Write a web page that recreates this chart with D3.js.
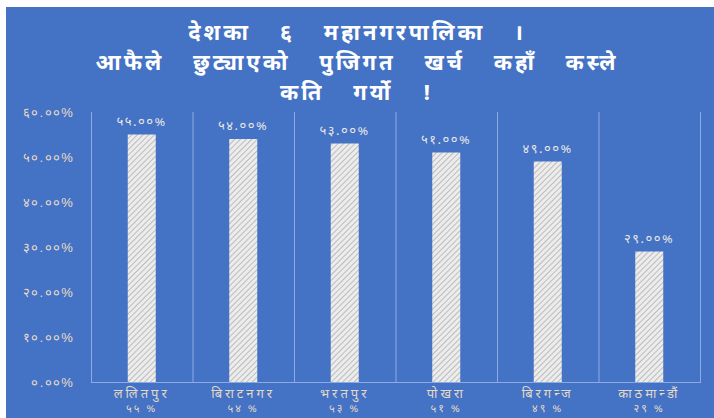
<!DOCTYPE html>
<html><head><meta charset="utf-8">
<script src="https://cdn.jsdelivr.net/npm/d3@7"></script>
<style>
html,body{margin:0;padding:0;background:#fff;}
svg{display:block;font-family:"Noto Sans Devanagari","Noto Sans",sans-serif;}
</style></head><body>
<svg id="c" width="714" height="418"></svg>
<script>
const titleLines = ["देशका ६ महानगरपालिका ।", "आफैले छुट्याएको पुजिगत खर्च कहाँ कस्ले", "कति गर्यो !"];
const categories = ["ललितपुर", "बिराटनगर", "भरतपुर", "पोखरा", "बिरगन्ज", "काठमान्डौं"];
const categorySub = ["५५ %", "५४ %", "५३ %", "५१ %", "४९ %", "२९ %"];
const values = [55, 54, 53, 51, 49, 29];
const valueLabels = ["५५.००%", "५४.००%", "५३.००%", "५१.००%", "४९.००%", "२९.००%"];
const yTicks = [0, 10, 20, 30, 40, 50, 60];
const yTickLabels = ["०.००%", "१०.००%", "२०.००%", "३०.००%", "४०.००%", "५०.००%", "६०.००%"];

const svg = d3.select("#c");
const W = 714, H = 418;
svg.append("rect").attr("x", 6).attr("y", 7).attr("width", W - 6).attr("height", H - 7).attr("fill", "#4472C4");

const defs = svg.append("defs");
const pat = defs.append("pattern").attr("id", "hatch").attr("patternUnits", "userSpaceOnUse")
  .attr("width", 4).attr("height", 4).attr("patternTransform", "rotate(45)");
pat.append("rect").attr("width", 4).attr("height", 4).attr("fill", "#ececec");
pat.append("line").attr("x1", 0).attr("y1", 0).attr("x2", 0).attr("y2", 4).attr("stroke", "#949494").attr("stroke-width", 1.1);

const pLeft = 91, pRight = 700, pTop = 112, pBottom = 382;
const x = d3.scaleBand().domain(categories).range([pLeft, pRight]).paddingInner(0).paddingOuter(0);
const y = d3.scaleLinear().domain([0, 60]).range([pBottom, pTop]);

const lineCol = "#8eaae2";
const edges = categories.map(c => x(c)).concat([pRight]);
svg.append("g").selectAll("line").data(edges).join("line")
  .attr("x1", d => d + 0.5).attr("x2", d => d + 0.5).attr("y1", pTop).attr("y2", pBottom)
  .attr("stroke", lineCol).attr("stroke-width", 1);
svg.append("line").attr("x1", pLeft).attr("x2", pRight + 1).attr("y1", pBottom + 0.5).attr("y2", pBottom + 0.5)
  .attr("stroke", lineCol).attr("stroke-width", 1);

const yAxis = d3.axisLeft(y).tickValues(yTicks).tickSize(0).tickPadding(17)
  .tickFormat((d, i) => yTickLabels[i]);
const ya = svg.append("g").attr("transform", `translate(${pLeft},0)`).call(yAxis);
ya.select(".domain").remove();
ya.selectAll("text").attr("fill", "#ecdcc8").attr("font-size", 13).attr("letter-spacing", 1.3)
  .attr("font-family", null);

const bw = 28;
svg.append("g").selectAll("rect").data(values).join("rect")
  .attr("x", (d, i) => x(categories[i]) + x.bandwidth() / 2 - bw / 2)
  .attr("y", d => y(d)).attr("width", bw).attr("height", d => pBottom - y(d))
  .attr("fill", "url(#hatch)");

svg.append("g").selectAll("text").data(values).join("text")
  .attr("x", (d, i) => x(categories[i]) + x.bandwidth() / 2)
  .attr("y", d => y(d) - 9).attr("text-anchor", "middle")
  .attr("font-size", 13).attr("fill", "#eae6e6").attr("letter-spacing", 1.5)
  .text((d, i) => valueLabels[i]);

const xa = svg.append("g");
xa.selectAll("text.c").data(categories).join("text").attr("class", "c")
  .attr("x", d => x(d) + x.bandwidth() / 2).attr("y", 398).attr("text-anchor", "middle")
  .attr("font-size", 13).attr("fill", "#e3d9c6").attr("letter-spacing", 3)
  .text(d => d);
xa.selectAll("text.s").data(categorySub).join("text").attr("class", "s")
  .attr("x", (d, i) => x(categories[i]) + x.bandwidth() / 2).attr("y", 412).attr("text-anchor", "middle")
  .attr("font-size", 11).attr("fill", "#e3d9c6").attr("letter-spacing", 2)
  .text(d => d);

svg.append("g").selectAll("text").data(titleLines).join("text")
  .attr("x", 357).attr("y", (d, i) => 40 + i * 30).attr("text-anchor", "middle")
  .attr("font-size", 22).attr("font-weight", "bold").attr("fill", "#ffffff").attr("letter-spacing", 3)
  .attr("word-spacing", 20)
  .text(d => d);
</script>
</body></html>
